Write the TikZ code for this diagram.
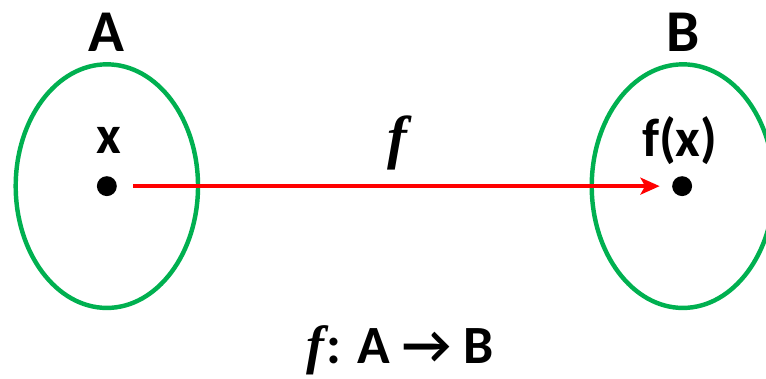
\documentclass[tikz,border=0pt]{standalone}
\usepackage{fontspec}
\setmainfont{Carlito}
\newfontfamily\mapfont{Liberation Serif}
\usepackage{tikz}
\usetikzlibrary{arrows.meta,positioning,shapes.geometric}
\definecolor{setgreen}{RGB}{0,176,80}
\definecolor{maparrow}{RGB}{255,0,0}
\tikzset{
  setbox/.style={draw=setgreen, line width=3.3pt, ellipse, minimum width=4.76cm,
    minimum height=6.36cm, inner sep=0pt},
  elem/.style={circle, fill=black, minimum size=0.52cm, inner sep=0pt},
  setname/.style={font=\fontsize{44}{48}\selectfont\bfseries},
  elname/.style={font=\fontsize{40}{44}\selectfont\bfseries},
  mapflow/.style={draw=maparrow, line width=3pt, -{Stealth[length=0.5cm, width=0.44cm, inset=0.12cm]}}
}
\newcommand{\mapf}{{\mapfont\bfseries\itshape f}}
\begin{document}
\begin{tikzpicture}
    % frame of the picture (the right set runs off the edge)
    \useasboundingbox (0,0) rectangle (20,9.87);
    \clip (0,0) rectangle (20,9.87);

    % the two sets
    \node[setbox] (setA) at (2.79,5.01) {};
    \node[setbox] (setB) at (17.83,5.01) {};
    \node[setname] (nameA) at (2.79,9.03) {A};
    \node[setname] (nameB) at (17.83,9.03) {B};

    % elements
    \node[elem] (dotx) at (2.79,5.01) {};
    \node[elem] (dotfx) at (17.81,5.01) {};
    \node[elname] (labx) at (2.85,6.21) {x};
    \node[elname] (labfx) at (17.75,6.21) {f(x)};

    % the map
    \draw[mapflow, shorten <=0.42cm, shorten >=0.32cm] (dotx) -- (dotfx);
    \node[font=\fontsize{44}{48}\selectfont] (fname) at (10.37,6.15) {\mapf};

    \node[elname] (sig) at (10.44,0.72) {\mapf\kern0.04em: A \symbol{"2192} B};
\end{tikzpicture}
\end{document}
